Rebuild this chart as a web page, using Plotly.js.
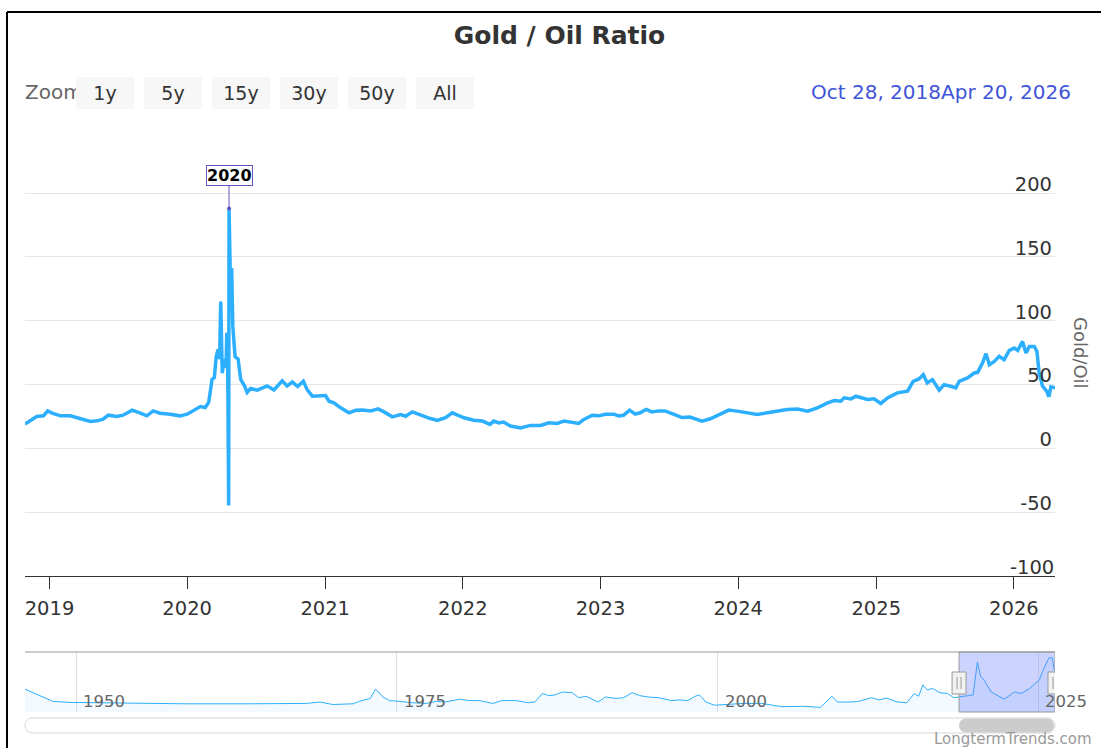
<!DOCTYPE html>
<html>
<head>
<meta charset="utf-8">
<script src="https://cdn.plot.ly/plotly-3.0.1.min.js"></script>
<style>html,body{margin:0;padding:0;background:#fff;}#chart{width:1101px;height:748px;}</style>
</head>
<body>
<div id="chart"></div>
<script>
// ---- main series: Gold / Oil ratio (Oct 2018 - Apr 2026) ----
const mainDates = ['2018-10-28','2018-11-10','2018-11-28','2018-12-16','2018-12-27','2019-01-08','2019-01-30','2019-02-25','2019-03-23','2019-04-19','2019-05-07','2019-05-23','2019-06-06','2019-06-29','2019-07-15','2019-08-08','2019-08-30','2019-09-16','2019-10-03','2019-10-21','2019-11-17','2019-12-13','2020-01-01','2020-01-18','2020-02-05','2020-02-18','2020-02-27','2020-03-07','2020-03-13','2020-03-18','2020-03-23','2020-03-27','2020-03-30','2020-04-03','2020-04-08','2020-04-13','2020-04-15','2020-04-17','2020-04-20','2020-04-21','2020-04-24','2020-04-28','2020-05-01','2020-05-07','2020-05-15','2020-05-22','2020-06-01','2020-06-08','2020-06-17','2020-07-05','2020-07-31','2020-08-18','2020-09-09','2020-09-22','2020-10-06','2020-10-20','2020-11-04','2020-11-14','2020-11-28','2020-12-20','2021-01-02','2021-01-11','2021-01-24','2021-02-11','2021-03-05','2021-03-23','2021-04-10','2021-05-02','2021-05-21','2021-06-06','2021-06-28','2021-07-20','2021-08-02','2021-08-20','2021-09-11','2021-10-07','2021-10-25','2021-11-16','2021-12-04','2021-12-17','2022-01-04','2022-01-30','2022-02-22','2022-03-14','2022-03-24','2022-04-06','2022-04-19','2022-05-07','2022-06-03','2022-06-29','2022-07-26','2022-08-17','2022-09-08','2022-09-26','2022-10-18','2022-11-04','2022-11-18','2022-12-10','2022-12-27','2023-01-14','2023-02-05','2023-02-18','2023-03-03','2023-03-19','2023-04-03','2023-04-16','2023-05-02','2023-05-17','2023-06-04','2023-06-21','2023-07-13','2023-08-05','2023-08-26','2023-09-27','2023-10-19','2023-11-15','2023-12-07','2023-12-29','2024-01-25','2024-02-21','2024-03-18','2024-04-14','2024-05-10','2024-06-06','2024-07-03','2024-07-29','2024-08-25','2024-09-12','2024-09-29','2024-10-08','2024-10-26','2024-11-08','2024-11-21','2024-12-09','2024-12-26','2025-01-13','2025-01-31','2025-02-26','2025-03-25','2025-04-09','2025-04-24','2025-05-06','2025-05-16','2025-05-30','2025-06-17','2025-06-30','2025-07-17','2025-07-31','2025-08-09','2025-08-31','2025-09-18','2025-09-27','2025-10-10','2025-10-19','2025-10-28','2025-11-10','2025-11-23','2025-12-06','2025-12-20','2026-01-02','2026-01-11','2026-01-24','2026-02-02','2026-02-11','2026-02-24','2026-03-03','2026-03-09','2026-03-18','2026-03-29','2026-04-04','2026-04-09','2026-04-20'];
const mainValues = [19.0,21.6,25.0,25.5,29.4,27.6,25.5,25.5,23.4,21.1,21.6,22.9,26.0,25.0,26.0,30.0,27.6,25.5,29.4,27.6,26.8,25.5,26.8,29.4,32.8,32.0,36.0,54.0,55.5,72.0,77.6,70.0,115.0,59.0,70.0,63.0,90.6,88.0,-44.8,188.0,140.0,140.0,95.8,72.0,70.0,54.0,49.0,43.8,46.9,45.6,49.0,45.8,52.9,49.0,52.0,48.5,52.6,46.0,40.9,40.9,41.4,37.0,35.7,31.8,27.9,29.9,30.0,29.4,31.0,28.6,24.7,26.5,25.2,28.6,26.0,23.4,21.9,24.0,27.9,26.0,24.0,22.1,21.4,18.8,21.4,20.0,20.6,17.5,16.1,18.0,18.0,20.0,19.6,21.4,20.0,19.6,22.7,26.0,25.5,26.8,26.8,25.5,26.0,30.0,26.8,27.9,30.5,28.6,29.4,29.4,26.8,24.2,24.5,21.4,23.2,26.6,30.0,29.2,27.9,26.6,27.9,29.2,30.5,30.9,29.2,31.8,35.7,37.5,37.0,39.6,38.8,40.9,39.6,38.3,38.8,35.2,39.6,43.5,44.8,52.6,54.4,57.8,51.3,53.9,45.6,50.0,48.7,47.4,52.6,55.2,59.1,59.6,67.0,74.2,65.6,68.2,72.1,69.5,76.8,78.6,76.8,83.8,74.7,79.9,79.9,76.0,59.1,48.7,44.8,40.5,48.2,47.5];

// ---- navigator series (full history, smoothed) ----
const navDates = ['1946-01','1947-02','1948-03','1949-06','1951-01','1954-01','1958-06','1963-06','1967-12','1969-01','1970-01','1971-08','1972-02','1972-12','1973-05','1973-12','1974-06','1975-03','1976-03','1977-04','1978-02','1978-10','1979-12','1980-08','1981-06','1982-07','1983-03','1984-04','1985-04','1985-10','1986-05','1986-11','1987-05','1987-12','1988-09','1989-03','1989-10','1990-09','1991-04','1992-02','1992-09','1993-05','1993-12','1994-08','1995-06','1996-06','1997-01','1997-09','1998-04','1998-08','1999-02','1999-10','2001-01','2002-01','2003-06','2005-01','2006-09','2008-01','2008-12','2009-05','2010-06','2011-01','2012-01','2012-08','2013-03','2014-01','2014-10','2015-05','2015-09','2016-01','2016-05','2016-10','2017-05','2017-12','2018-06','2018-10','2019-06','2019-12','2020-04','2020-07','2020-10','2021-05','2022-05','2023-03','2023-09','2024-05','2025-02','2025-05','2025-11','2026-02','2026-04'];
const navValues = [32,23,15,13.5,13,12.5,11.5,11.5,12,14,10.5,11.5,15,19,32,21,16,15,13,12,15,14,18,16,16,12,16,16,13,14,26,23,24,28,27,20,22,14,21,19,20,27,23,21,20,16,17,16,22,24,14,9.5,11,12,12,7.5,8,6.5,22,14,14,15,20,17,19.5,14,13,26,22,38,31,33,27,26,20,21,22,24,70,50,45,28,18,28,26,33,45,57,76,76,58];

// ---- labels ----
const chartTitle = 'Gold / Oil Ratio';
const yTitle = 'Gold/Oil';
const yTicks = [-100,-50,0,50,100,150,200];
const yTickText = ['-100','-50','0','50','100','150','200'];
const zoomButtons = ['1y','5y','15y','30y','50y','All'];
const zoomLabel = 'Zoom';
const rangeFrom = 'Oct 28, 2018';
const rangeTo = 'Apr 20, 2026';
const viewStart = '2018-10-28';
const viewEnd = '2026-04-20';
const navStart = '1946-01-01';
const navTicks = ['1950-01-01','1975-01-01','2000-01-01','2025-01-01'];
const navTickText = ['1950','1975','2000','2025'];
const peakLabel = '2020';
const peakDate = '2020-04-21';
const peakValue = 188;
const credit = 'LongtermTrends.com';

// ---- geometry helpers (pixel -> paper) ----
const W = 1101, H = 748, ML = 25, MR = 46, MT = 160, MB = 36;
const PW = W - ML - MR, PH = H - MT - MB;
const px = x => (x - ML) / PW;
const py = y => (H - MB - y) / PH;
const FONT = "'DejaVu Sans', 'Noto Sans', sans-serif";

function pill(x0, x1, y0, y1) {
  const r = (y1 - y0) / 2, k = 0.5523 * r, ym = (y0 + y1) / 2;
  const P = (x, y) => px(x) + ',' + py(y);
  return 'M' + P(x0 + r, y0) + ' L' + P(x1 - r, y0) +
    ' C' + P(x1 - r + k, y0) + ' ' + P(x1, ym - k) + ' ' + P(x1, ym) +
    ' C' + P(x1, ym + k) + ' ' + P(x1 - r + k, y1) + ' ' + P(x1 - r, y1) +
    ' L' + P(x0 + r, y1) +
    ' C' + P(x0 + r - k, y1) + ' ' + P(x0, ym + k) + ' ' + P(x0, ym) +
    ' C' + P(x0, ym - k) + ' ' + P(x0 + r - k, y0) + ' ' + P(x0 + r, y0) + ' Z';
}

const traces = [
  {
    x: navDates, y: navValues, xaxis: 'x2', yaxis: 'y2', type: 'scatter', mode: 'lines',
    line: {color: '#2caffe', width: 1}, fill: 'tozeroy', fillcolor: 'rgba(44,175,254,0.06)',
    hoverinfo: 'skip'
  },
  {
    x: mainDates, y: mainValues, xaxis: 'x', yaxis: 'y', type: 'scatter', mode: 'lines',
    line: {color: '#2caffe', width: 3.5, shape: 'linear'}, name: yTitle
  }
];

const shapes = [];
const annotations = [];

// frame
shapes.push({type: 'line', xref: 'paper', yref: 'paper', x0: px(7), x1: px(1101), y0: py(12), y1: py(12), line: {color: '#000', width: 2}});
shapes.push({type: 'line', xref: 'paper', yref: 'paper', x0: px(7), x1: px(7), y0: py(12), y1: py(748), line: {color: '#000', width: 2}});

// zoom label; the first button (drawn after it) overlaps its last letter, like the reference
annotations.push({xref: 'paper', yref: 'paper', x: px(24), y: py(92), xanchor: 'left', yanchor: 'middle', text: zoomLabel, showarrow: false, borderpad: 0, font: {family: FONT, size: 20, color: '#666'}});
const btnX = [76, 144, 212, 280, 348, 416];
zoomButtons.forEach((b, i) => {
  annotations.push({xref: 'paper', yref: 'paper', x: px(btnX[i] + 29), y: py(93), xanchor: 'center', yanchor: 'middle', text: b, showarrow: false, width: 58, height: 32, borderpad: 0, borderwidth: 0, bgcolor: '#f7f7f7', font: {family: FONT, size: 19, color: '#333'}});
});

// date range inputs
annotations.push({xref: 'paper', yref: 'paper', x: px(810), y: py(92), xanchor: 'left', yanchor: 'middle', text: rangeFrom, showarrow: false, borderpad: 0, font: {family: FONT, size: 20, color: '#3f55d8'}});
annotations.push({xref: 'paper', yref: 'paper', x: px(1072), y: py(92), xanchor: 'right', yanchor: 'middle', text: rangeTo, showarrow: false, borderpad: 0, font: {family: FONT, size: 20, color: '#3f55d8'}});

// y axis title
annotations.push({xref: 'paper', yref: 'paper', x: px(1081), y: py(353), xanchor: 'center', yanchor: 'middle', text: yTitle, textangle: 90, showarrow: false, font: {family: FONT, size: 18, color: '#666'}});

// lowest y tick label (Plotly hides inside labels touching the plot edge)
annotations.push({xref: 'paper', yref: 'y', x: 1, y: yTicks[0], xanchor: 'right', yanchor: 'middle', yshift: 9, text: yTickText[0], showarrow: false, borderpad: 0, font: {family: FONT, size: 19.5, color: '#333'}});

// peak annotation
annotations.push({xref: 'x', yref: 'y', x: peakDate, y: peakValue, text: '<b>' + peakLabel + '</b>', showarrow: true, arrowhead: 6, arrowsize: 1, arrowwidth: 1, arrowcolor: '#6655c0', ax: 0, ay: -33, bordercolor: '#6655c0', borderwidth: 1, borderpad: 0, bgcolor: 'rgba(255,255,255,0)', font: {family: FONT, size: 16, color: '#000'}});

// navigator axis labels
navTicks.forEach((d, i) => {
  annotations.push({xref: 'x2', yref: 'paper', x: d, y: py(701), xanchor: 'left', yanchor: 'middle', xshift: 6, text: navTickText[i], showarrow: false, borderpad: 0, font: {family: FONT, size: 16.5, color: '#666'}});
});

// credit
annotations.push({xref: 'paper', yref: 'paper', x: px(1093), y: py(739), xanchor: 'right', yanchor: 'middle', text: credit, showarrow: false, borderpad: 0, font: {family: FONT, size: 15, color: '#999'}});

// navigator outline + mask
shapes.push({type: 'line', xref: 'paper', yref: 'paper', x0: 0, x1: 1, y0: py(652), y1: py(652), line: {color: '#999', width: 1}});
shapes.push({type: 'rect', xref: 'x2', yref: 'y2 domain', x0: viewStart, x1: viewEnd, y0: 0, y1: 1, fillcolor: 'rgba(110,130,250,0.35)', line: {color: '#999', width: 1}, layer: 'above'});
[viewStart, viewEnd].forEach(d => {
  shapes.push({type: 'rect', xref: 'x2', yref: 'paper', xsizemode: 'pixel', xanchor: d, x0: -7, x1: 7, y0: py(694), y1: py(672), fillcolor: '#f2f2f2', line: {color: '#999', width: 1}, layer: 'above'});
  [-2, 2].forEach(o => shapes.push({type: 'line', xref: 'x2', yref: 'paper', xsizemode: 'pixel', xanchor: d, x0: o, x1: o, y0: py(689), y1: py(677), line: {color: '#999', width: 1}, layer: 'above'}));
});

// scrollbar
shapes.push({type: 'path', xref: 'paper', yref: 'paper', path: pill(25, 1055, 718, 733), fillcolor: '#ffffff', line: {color: '#d6d6d6', width: 1}});
shapes.push({type: 'path', xref: 'paper', yref: 'paper', path: pill(959, 1054, 718.5, 732.5), fillcolor: '#cccccc', line: {width: 0}});

const layout = {
  width: W, height: H,
  margin: {l: ML, r: MR, t: MT, b: MB, pad: 0},
  paper_bgcolor: '#fff', plot_bgcolor: '#fff',
  showlegend: false, hovermode: false,
  font: {family: FONT, color: '#333'},
  title: {text: '<b>' + chartTitle + '</b>', xref: 'paper', x: px(559.5), xanchor: 'center', yref: 'container', y: 1 - 35 / H, yanchor: 'middle', font: {family: FONT, size: 25, color: '#333'}},
  xaxis: {
    type: 'date', anchor: 'y', domain: [0, 1], range: [viewStart, viewEnd],
    tick0: '2019-01-01', dtick: 'M12', tickformat: '%Y',
    ticks: 'outside', ticklen: 12, tickwidth: 1, tickcolor: '#333',
    showline: true, linecolor: '#333', linewidth: 1, showgrid: false, zeroline: false,
    tickfont: {family: FONT, size: 19.5, color: '#333'}, ticklabelstandoff: 3
  },
  yaxis: {
    anchor: 'x', domain: [py(576), 1], range: [-100, 226], side: 'right',
    tickvals: yTicks, ticktext: yTickText, ticks: '', ticklabelposition: 'inside', ticklabelshift: -9, ticklabelstandoff: 0,
    showgrid: true, gridcolor: '#e6e6e6', gridwidth: 1, zeroline: false, showline: false,
    tickfont: {family: FONT, size: 19.5, color: '#333'}
  },
  xaxis2: {
    type: 'date', anchor: 'y2', domain: [0, 1], range: [navStart, viewEnd],
    tickvals: navTicks, showticklabels: false, ticks: '',
    showgrid: true, gridcolor: '#e0e0e0', showline: false, zeroline: false
  },
  yaxis2: {
    anchor: 'x2', domain: [0, py(652)], range: [0, 84],
    showgrid: false, showticklabels: false, zeroline: false, showline: false, ticks: ''
  },
  shapes: shapes,
  annotations: annotations
};

Plotly.newPlot('chart', traces, layout, {displayModeBar: false, staticPlot: true});
</script>
</body>
</html>
